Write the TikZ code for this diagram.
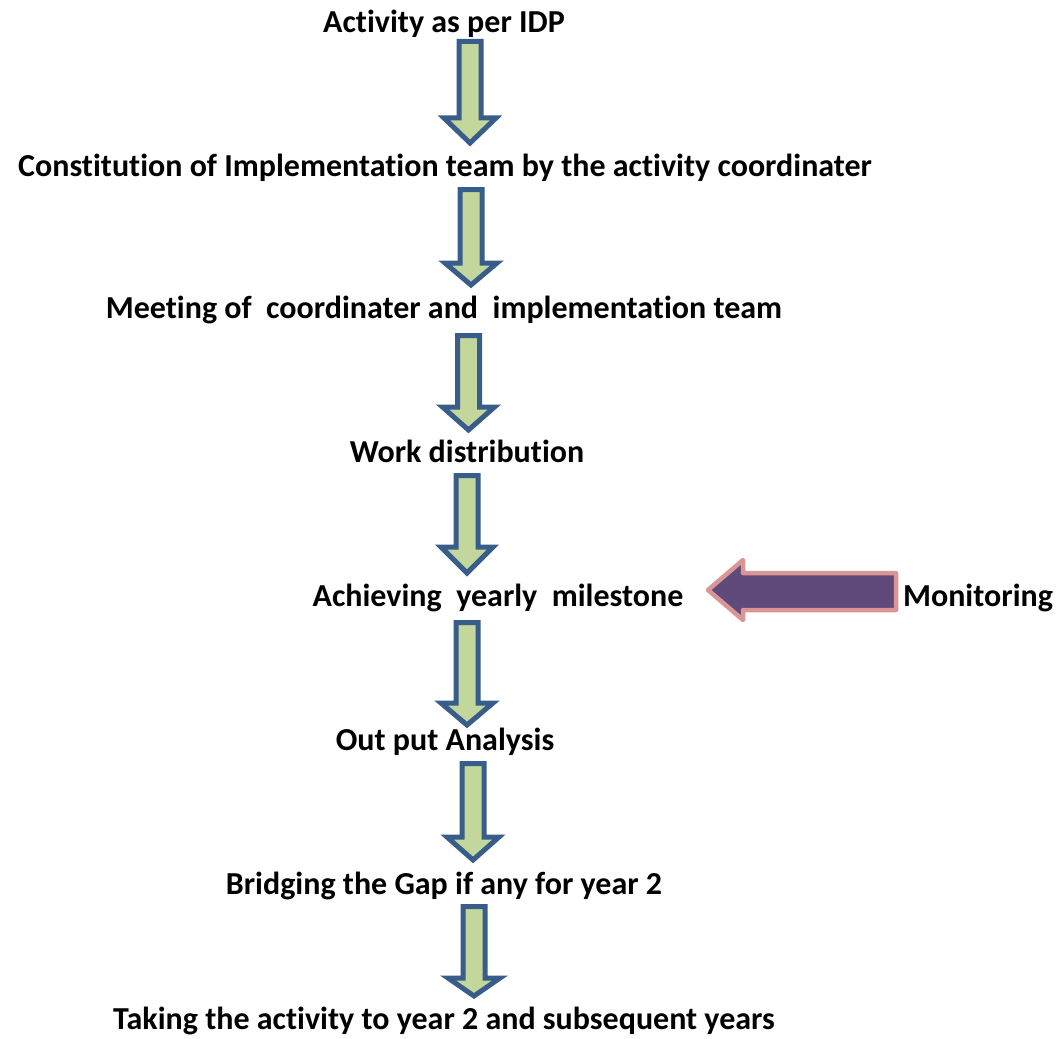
\documentclass[tikz,border=0pt]{standalone}
\usepackage{fontspec}
\setmainfont{Carlito}[Ligatures={NoCommon}]
\definecolor{arrfill}{HTML}{C3D69B}
\definecolor{arrline}{HTML}{385D8A}
\definecolor{monfill}{HTML}{604A7B}
\definecolor{monline}{HTML}{D99694}
\tikzset{
  lbl/.style={font=\fontsize{32}{38}\selectfont\bfseries, inner sep=0pt, text height=0.66em, text depth=0pt, anchor=center},
  blockarrow/.style={draw=arrline, fill=arrfill, line width=5pt, line join=miter},
  monarrow/.style={draw=monline, fill=monfill, line width=4.5pt, line join=round}
}
% #1 cx, #2 top, #3 head base, #4 tip
\newcommand{\dnarrow}[4]{%
  \draw[blockarrow] (#1-11,#2+2.5) -- (#1+11,#2+2.5) -- (#1+11,#3) -- (#1+26,#3) -- (#1,#4-5) -- (#1-26,#3) -- (#1-11,#3) -- cycle;}
\begin{document}
\begin{tikzpicture}[x=1pt,y=-1pt]
\useasboundingbox (0,0) rectangle (1062,1038);
\node[lbl] (a1) at (444,29) {Activity as per IDP};
\node[lbl] (a2) at (445,173) {Constitution of Implementation team by the activity coordinater};
\node[lbl] (a3) at (444,315) {Meeting of \ coordinater and \ implementation team};
\node[lbl] (a4) at (467,459) {Work distribution};
\node[lbl] (a5) at (498,603) {Achieving \ yearly \ milestone};
\node[lbl] (mon) at (978,603) {Monitoring};
\node[lbl] (a6) at (445,747) {Out put Analysis};
\node[lbl] (a7) at (444,891) {Bridging the Gap if any for year 2};
\node[lbl] (a8) at (444,1026) {Taking the activity to year 2 and subsequent years};
\dnarrow{470}{39}{118}{148}
\dnarrow{471}{187}{263}{290}
\dnarrow{468.5}{333}{407}{435}
\dnarrow{467}{473}{547}{578}
\dnarrow{467}{620}{703}{730}
\dnarrow{473}{761}{837}{865}
\dnarrow{474}{904}{978}{1001}
\draw[monarrow] (896,573) -- (896,610) -- (743,610) -- (743,620) -- (708,590) -- (743,560) -- (743,573) -- cycle;
\end{tikzpicture}
\end{document}
